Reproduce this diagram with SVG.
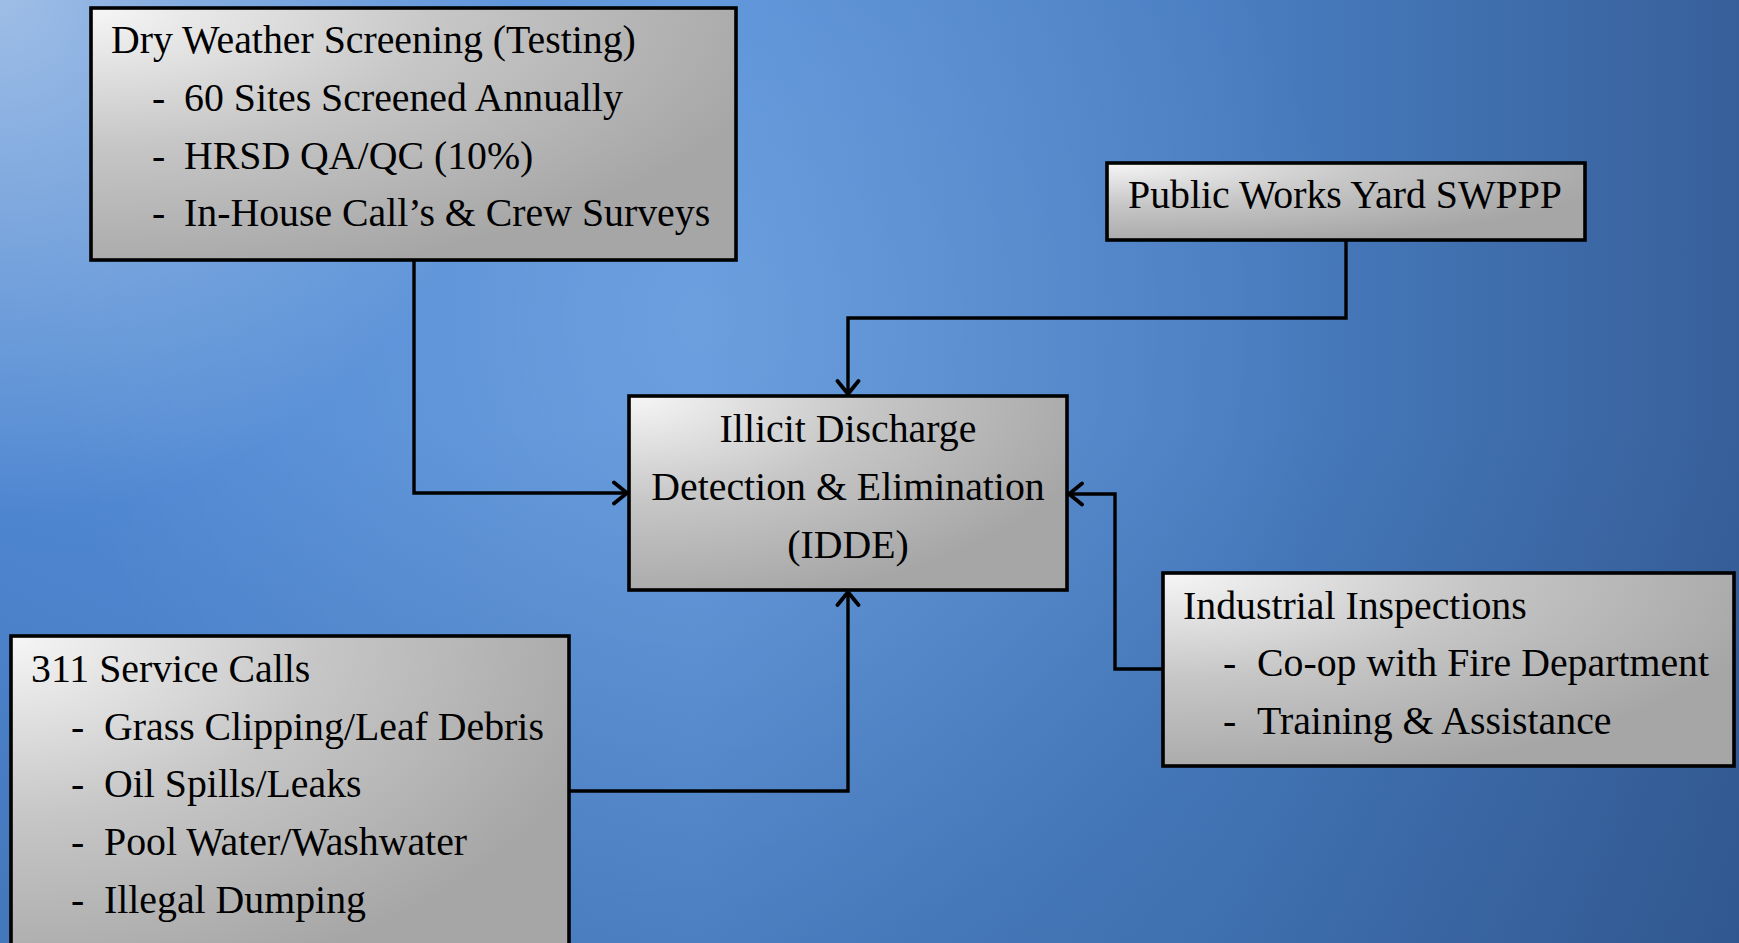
<svg xmlns="http://www.w3.org/2000/svg" width="1739" height="943" viewBox="0 0 1739 943">
<defs>
<linearGradient id="bgx" x1="0" y1="0" x2="1" y2="0">
<stop offset="0" stop-color="#4f88d2"/>
<stop offset="0.4" stop-color="#5892da"/>
<stop offset="0.7" stop-color="#497ec2"/>
<stop offset="1" stop-color="#37609a"/>
</linearGradient>
<radialGradient id="bgc" gradientUnits="userSpaceOnUse" cx="700" cy="320" r="650">
<stop offset="0" stop-color="#ffffff" stop-opacity="0.12"/>
<stop offset="1" stop-color="#ffffff" stop-opacity="0"/>
</radialGradient>
<radialGradient id="bgtl" gradientUnits="userSpaceOnUse" cx="0" cy="0" r="520">
<stop offset="0" stop-color="#ffffff" stop-opacity="0.45"/>
<stop offset="1" stop-color="#ffffff" stop-opacity="0"/>
</radialGradient>
<linearGradient id="bgy" x1="0" y1="0" x2="0" y2="1">
<stop offset="0.45" stop-color="#1a3a6a" stop-opacity="0"/>
<stop offset="1" stop-color="#1a3a6a" stop-opacity="0.22"/>
</linearGradient>
<radialGradient id="boxg" cx="0" cy="0" r="1.1" fx="0" fy="0">
<stop offset="0" stop-color="#f6f6f6"/>
<stop offset="0.5" stop-color="#c6c6c6"/>
<stop offset="1" stop-color="#a6a6a6"/>
</radialGradient>
<marker id="arr" markerUnits="userSpaceOnUse" viewBox="0 0 18 26" refX="16.5" refY="13" markerWidth="18" markerHeight="26" orient="auto">
<path d="M2.5,2.5 L15.5,13 L2.5,23.5" fill="none" stroke="#000" stroke-width="3.8" stroke-linecap="round" stroke-linejoin="miter"/>
</marker>
<style>
.box{fill:url(#boxg);stroke:#000;stroke-width:3.6}
.t{font-family:"Liberation Serif","Times New Roman",serif;font-size:39.8px;fill:#000}
.c{text-anchor:middle}
.conn{fill:none;stroke:#000;stroke-width:3.4;marker-end:url(#arr)}
</style>
</defs>
<rect x="0" y="0" width="1739" height="943" fill="url(#bgx)"/>
<rect x="0" y="0" width="1739" height="943" fill="url(#bgc)"/>
<rect x="0" y="0" width="1739" height="943" fill="url(#bgtl)"/>
<rect x="0" y="0" width="1739" height="943" fill="url(#bgy)"/>

<g id="connectors">
<path class="conn" d="M414,260 V493 H628"/>
<path class="conn" d="M1346,240 V318 H848 V395"/>
<path class="conn" d="M569,791 H848 V591"/>
<path class="conn" d="M1163,669 H1115 V494 H1068"/>
</g>

<g id="dry">
<rect class="box" x="91" y="8" width="645" height="252"/>
<text class="t" x="111" y="53">Dry Weather Screening (Testing)</text>
<text class="t" x="152" y="111">-</text><text class="t" x="184" y="111">60 Sites Screened Annually</text>
<text class="t" x="152" y="169">-</text><text class="t" x="184" y="169">HRSD QA/QC (10%)</text>
<text class="t" x="152" y="226">-</text><text class="t" x="184" y="226">In-House Call’s &amp; Crew Surveys</text>
</g>

<g id="pw">
<rect class="box" x="1107" y="163" width="478" height="77"/>
<text class="t" x="1128" y="208">Public Works Yard SWPPP</text>
</g>

<g id="idde">
<rect class="box" x="629" y="396" width="438" height="194"/>
<text class="t c" x="848" y="442">Illicit Discharge</text>
<text class="t c" x="848" y="500">Detection &amp; Elimination</text>
<text class="t c" x="848" y="558">(IDDE)</text>
</g>

<g id="calls311">
<rect class="box" x="11" y="636" width="558" height="330"/>
<text class="t" x="31" y="682">311 Service Calls</text>
<text class="t" x="71" y="740">-</text><text class="t" x="104" y="740">Grass Clipping/Leaf Debris</text>
<text class="t" x="71" y="797">-</text><text class="t" x="104" y="797">Oil Spills/Leaks</text>
<text class="t" x="71" y="855">-</text><text class="t" x="104" y="855">Pool Water/Washwater</text>
<text class="t" x="71" y="913">-</text><text class="t" x="104" y="913">Illegal Dumping</text>
</g>

<g id="industrial">
<rect class="box" x="1163" y="573" width="571" height="193"/>
<text class="t" x="1183" y="619">Industrial Inspections</text>
<text class="t" x="1223" y="676">-</text><text class="t" x="1257" y="676">Co-op with Fire Department</text>
<text class="t" x="1223" y="734">-</text><text class="t" x="1257" y="734">Training &amp; Assistance</text>
</g>
</svg>
